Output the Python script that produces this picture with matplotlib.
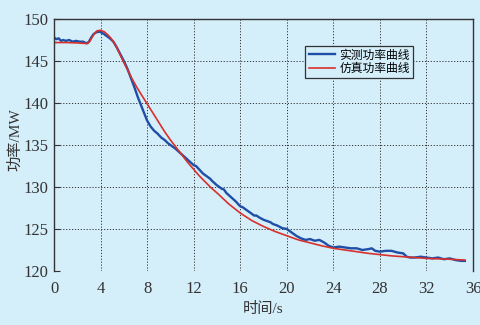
import matplotlib
matplotlib.use('Agg')
import matplotlib.pyplot as plt

t_meas = [0.0, 0.2, 0.4, 0.6, 0.8, 1.0, 1.3, 1.6, 1.9, 2.2, 2.5, 2.8, 3.0, 3.2, 3.4,
          3.6, 3.9, 4.2, 4.5, 4.8, 5.1, 5.4, 5.7, 6.0, 6.3, 6.6, 6.9, 7.2, 7.4, 7.6,
          7.8, 8.0, 8.3, 8.6, 8.9, 9.2, 9.5, 9.8, 10.0, 10.4, 10.8, 11.2, 11.6, 12.0,
          12.2, 12.4, 12.8, 13.2, 13.4, 13.6, 14.0, 14.4, 14.6, 14.8, 15.2, 15.6, 16.0,
          16.2, 16.4, 16.8, 17.2, 17.4, 17.6, 18.0, 18.4, 18.6, 18.8, 19.2, 19.6,
          20.0, 20.4, 20.8, 21.2, 21.6, 22.0, 22.4, 22.8, 23.2, 23.6, 24.0, 24.5,
          25.0, 25.5, 26.0, 26.5, 27.0, 27.3, 27.6, 28.0, 28.5, 29.0, 29.5, 30.0,
          30.3, 30.6, 31.0, 31.5, 32.0, 32.5, 33.0, 33.5, 34.0, 34.5, 35.0, 35.3]
p_meas = [147.8, 147.6, 147.7, 147.4, 147.5, 147.4, 147.5, 147.3, 147.4, 147.3, 147.3,
          147.1, 147.3, 147.8, 148.2, 148.4, 148.5, 148.3, 148.0, 147.7, 147.3, 146.6,
          145.8, 145.0, 144.1, 143.0, 141.9, 140.7, 140.0, 139.3, 138.6, 137.9, 137.2,
          136.7, 136.35, 135.9, 135.6, 135.2, 135.0, 134.6, 134.1, 133.6, 133.1, 132.6,
          132.5, 132.2, 131.6, 131.2, 131.0, 130.7, 130.2, 129.8, 129.7, 129.3, 128.8,
          128.3, 127.7, 127.6, 127.4, 127.0, 126.6, 126.6, 126.4, 126.1, 125.9, 125.8,
          125.6, 125.4, 125.1, 125.0, 124.6, 124.2, 123.9, 123.7, 123.8, 123.6, 123.7,
          123.4, 123.0, 122.8, 122.9, 122.8, 122.7, 122.7, 122.5, 122.6, 122.7, 122.4,
          122.3, 122.4, 122.4, 122.2, 122.1, 121.7, 121.6, 121.6, 121.7, 121.6, 121.5,
          121.6, 121.4, 121.5, 121.3, 121.2, 121.2]

# simulated power curve (red)
t_sim = [0.0, 1.0, 2.0, 2.6, 2.9, 3.1, 3.3, 3.5, 3.7, 4.0, 4.3, 4.6, 4.9, 5.2, 5.5,
         5.9, 6.3, 6.7, 7.1, 7.5, 8.0, 8.5, 9.0, 9.5, 10.0, 10.5, 11.0, 11.5, 12.0,
         12.5, 13.0, 13.5, 14.0, 15.0, 16.0, 17.0, 18.0, 19.0, 20.0, 21.0, 22.0,
         23.0, 24.0, 25.0, 26.0, 27.0, 28.0, 29.0, 30.0, 31.0, 32.0, 33.0, 34.0, 35.3]
p_sim = [147.2, 147.2, 147.15, 147.1, 147.1, 147.4, 147.9, 148.3, 148.6, 148.65, 148.5,
         148.15, 147.7, 147.1, 146.3, 145.1, 144.0, 142.9, 141.9, 141.0, 139.9, 138.8,
         137.7, 136.6, 135.6, 134.7, 133.8, 132.9, 132.1, 131.3, 130.6, 129.9, 129.3,
         128.0, 126.9, 126.0, 125.3, 124.7, 124.2, 123.7, 123.35, 123.0, 122.7, 122.5,
         122.3, 122.1, 121.95, 121.8, 121.7, 121.6, 121.5, 121.45, 121.4, 121.3]

x_ticks = [0, 4, 8, 12, 16, 20, 24, 28, 32, 36]
y_ticks = [120, 125, 130, 135, 140, 145, 150]

bg = '#d4eefa'
cjk = ['Liberation Serif', 'Noto Sans CJK SC', 'DejaVu Sans']

fig = plt.figure(figsize=(4.81, 3.25), dpi=100, facecolor=bg)
ax = fig.add_axes([0.1123, 0.1662, 0.8711, 0.7753], facecolor=bg)

ax.plot(t_meas, p_meas, color='#1f4ea6', lw=1.7, label='实测功率曲线')
ax.plot(t_sim, p_sim, color='#d8302c', lw=1.2, label='仿真功率曲线')

ax.set_xlim(0, 36)
ax.set_ylim(120, 150)
ax.set_xticks(x_ticks)
ax.set_yticks(y_ticks)
ax.grid(True, color='#333333', linestyle=(0, (1.2, 1.8)), lw=0.7)

for lab in ax.get_xticklabels() + ax.get_yticklabels():
    lab.set_family('Liberation Serif')
    lab.set_fontsize(12)
    lab.set_color('#333333')
ax.tick_params(axis='x', length=0, pad=7)
ax.tick_params(axis='y', direction='in', length=4, pad=4, color='#333333', right=False)

ax.spines['bottom'].set_visible(False)
for s in ('left', 'top', 'right'):
    ax.spines[s].set_color('#333333')
    ax.spines[s].set_linewidth(1.0)

ax.set_xlabel('时间/s', family=cjk, fontsize=11, color='#333333', labelpad=4)
ax.set_ylabel('功率/MW', family=cjk, fontsize=11, color='#333333')
ax.yaxis.set_label_coords(-0.075, 0.52)

leg = ax.legend(loc='upper left', bbox_to_anchor=(0.599, 0.893), borderaxespad=0,
                prop={'family': cjk, 'size': 8.5}, fancybox=False, framealpha=1,
                facecolor=bg, edgecolor='#333333', handlelength=2.2,
                handletextpad=0.4, borderpad=0.3, labelspacing=0.1)
leg.get_frame().set_linewidth(0.9)

fig.savefig('out.png', dpi=100, facecolor=bg)
